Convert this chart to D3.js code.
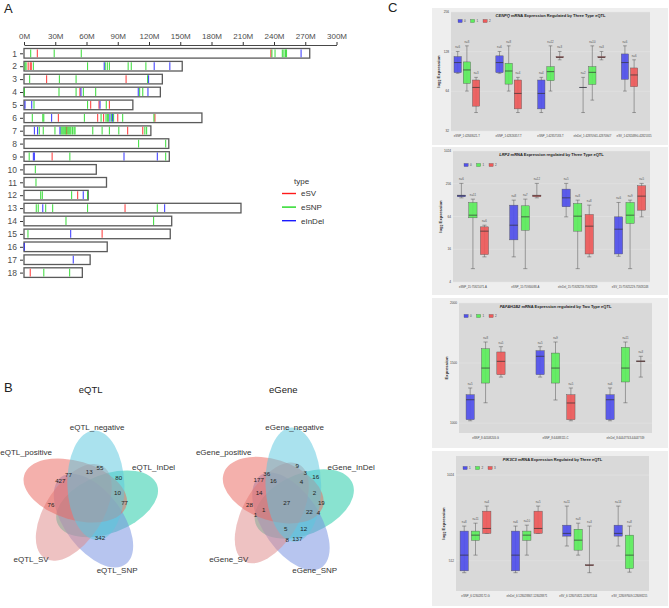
<!DOCTYPE html>
<html>
<head>
<meta charset="utf-8">
<script src="https://cdn.jsdelivr.net/npm/d3@7"></script>
<style>
  body { margin: 0; background: #fff; }
  text { font-family: "Liberation Sans", Arial, sans-serif; }
</style>
</head>
<body>
<div id="chart"></div>
<script>
// ---------------- data: panel A ----------------
const chromosomes = ["1","2","3","4","5","6","7","8","9","10","11","12","13","14","15","16","17","18"];
const chromLengths = [274.3,151.9,132.8,130.9,104.5,170.8,121.8,139.0,139.5,69.4,79.2,61.6,208.3,141.8,140.4,79.9,63.5,56.0];
const svMarks = [[1,12.8],[1,237],[2,4],[2,6],[2,7],[3,21.7],[3,98],[4,53.7],[5,64],[5,72],[5,82],
  [6,33],[6,70.7],[6,76.4],[6,90],[6,125.7],[7,41],[7,99.5],[7,114],[9,27],[12,51.5],[13,97],[15,75],[18,6]];
const snpMarks = [[1,6.4],[1,29],[1,55],[1,238],[1,241],[1,248],[1,249.5],[1,251],[1,252],
  [2,1],[2,2],[2,9],[2,61],[2,78],[2,80],[2,82],[2,100],[2,103],[2,117],
  [3,5.4],[3,34],[3,50],[3,118.6],
  [4,0.3],[4,33.6],[4,50],[4,57],[4,68.8],[4,111],[4,114],
  [5,9.6],[5,61],[5,79],
  [6,8],[6,18],[6,19],[6,58],[6,74],[6,78.7],[6,80],[6,81],[6,84],[6,86],[6,94.7],[6,124.7],
  [7,14.7],[7,18.5],[7,29.7],[7,35.5],[7,36.5],[7,37.5],[7,38.5],[7,39.5],[7,40.3],[7,42],[7,43],[7,44],
  [7,45],[7,46.5],[7,48],[7,49],[7,66],[7,75],[7,82],[7,91],[7,116],[7,117.7],
  [8,110],[8,136],[9,5],[9,44],[9,136],[10,10.9],[11,11.5],
  [12,16],[12,17.6],[12,45.7],[12,61],
  [13,11.8],[13,13.7],[13,20.8],[13,27.5],[13,61],[13,128],
  [14,40.3],[14,124.4],[15,3.8],[18,19],[18,43.8]];
const indelMarks = [[1,266],[2,77],[2,125],[2,140],[3,119.6],[4,54.7],[4,109.7],[4,119],
  [5,1],[5,7.4],[5,73],[6,26.5],[6,82.5],[6,85],[7,10],[7,13],[7,34.5],
  [9,9],[9,10],[9,96],[9,128],[12,56.9],[13,18],[13,135],[15,44.8],[16,0.3],[17,47.3]];
const markTypes = ["eSV","eSNP","eInDel"];
const axisTicksM = [0,30,60,90,120,150,180,210,240,270,300];

// ---------------- data: panel B ----------------
const vennSets = ["InDel","SNP","SV","positive","negative"];   // letters I S V P N
const eqtlRegions = ["SP","SPN","VPN","VN","IN","IPN","IP","VP","SN"];
const eqtlCounts  = [427, 77, 13, 55, 80, 10, 77, 76, 342];
const egeneRegions = ["VN","IVN","IN","SP","SPN","SVPN","IVPN","SVP","IPN","IP",
                      "VP","ISVPN","ISPN","ISP","IVP","ISVP","ISVN","ISN","SVN","SN"];
const egeneCounts  = [9, 3, 16, 177, 36, 16, 4, 14, 2, 19, 28, 27, 22, 4, 1, 1, 5, 12, 8, 137];

// ---------------- data: panel C ----------------
// rows: [snp index, genotype index, lower whisker, q1, median, q3, upper whisker, n]
const cenpqSnps = ["eSNP_1:42848021-T","eSNP_1:42826357-T","eSNP_1:42857183-T","eInDel_1:42870941-42870947","eSV_1:42824890-42825315"];
const cenpqBoxes = [
  [0,0,87.7,88.7,105.8,117.5,128.4,6],[0,1,64.3,73.5,93,107,141.7,8],[0,2,44.2,49.4,68.5,78,81.7,3],
  [1,0,87.7,88.7,105.8,119,128.4,6],[1,1,64.3,72.6,91.3,104.5,141.7,8],[1,2,44.2,47.1,61.7,78,81.7,4],
  [2,0,44.2,47.1,61.7,78,81.7,4],[2,1,64.3,77.1,90.3,98.6,141.7,12],[2,2,111,115,116,117.5,128.4,3],
  [3,0,44.2,68.5,68.5,68.5,81.7,2],[3,1,54.9,72.2,89.2,98.6,141.7,10],[3,2,111,115,116,117.5,128.4,3],
  [4,0,64.3,78.9,105.8,123,141.7,6],[4,2,44.2,69.4,85.2,96.3,111,6]];
const lrp2Snps = ["eSNP_15:75921071-A","eSNP_15:75930088-A","eInDel_15:75928259-75928259","eSV_15:75925229-75928248"];
const lrp2Boxes = [
  [0,0,141,147.5,154,158.3,259.6,6],[0,1,7.04,60.5,67.7,115.9,133.5,11],[0,2,11.6,12.8,34.4,41.3,44.3,6],
  [1,0,11.6,23.8,44.3,103.5,128,8],[1,1,7.04,35.8,63.1,100.6,133.5,7],[1,2,141,147.5,154,158.3,259.6,12],
  [2,0,63.1,96.5,141,204,259.6,5],[2,1,7.04,34.4,64.9,111,128,8],[2,2,11.6,13.1,42.5,69.7,103.5,8],
  [3,0,11.9,13.1,37.4,63.1,115.9,6],[3,1,7.04,47.6,67.7,115.9,128,9],[3,2,63.1,83.7,151.6,235,259.6,5]];
const pafahSnps = ["eSNP_8:44108203-G","eSNP_8:44088111-C","eInDel_8:44447743-44447749"];
const pafahBoxes = [
  [0,0,1019,1028,1194,1236,1292,5],[0,1,1169,1333,1458,1619,1675,8],[0,2,1383,1403,1514,1592,1636,5],
  [1,0,1383,1403,1556,1603,1636,5],[1,1,1192,1333,1458,1583,1675,9],[1,2,1019,1028,1167,1236,1292,5],
  [2,0,1019,1028,1194,1236,1292,6],[2,1,1169,1342,1458,1631,1675,11],[2,2,1383,1510,1514,1518,1556,3]];
const pik3c3Snps = ["eSNP_6:128028172-G","eInDel_6:128028867-128028871","eSV_6:128070821-128071144","eSV_128097609-128098215"];
const pik3c3Boxes = [
  [0,0,465,472,536,651,678,8],[0,1,536,604,630,651,694,11],[0,2,639,639,665,765,797,4],
  [1,0,465,472,536,651,678,6],[1,1,536,604,630,651,683,10],[1,2,639,639,665,765,797,5],
  [2,0,577,625,639,683,797,11],[2,1,536,558,605,661,694,8],[2,2,465,492,494,496,678,3],
  [3,0,577,625,639,683,797,14],[3,1,467,481,536,630,678,8]];
const genotypes012 = ["0","1","2"];
const genotypes123 = ["1","2","3"];

// ---------------- styles / layout ----------------
const font = "Liberation Sans, Arial, sans-serif";
const markColors = ["#FF1A1A","#1ED81E","#1A1AFF"];
const vennColors = ["#1DC9A4","#7490E0","#DE8A8A","#E9675F","#5CC8DE"];
const boxColors = ["#5050EC","#5CEE5C","#EE5A5A"];

const svg = d3.select("#chart").append("svg")
    .attr("width", 669).attr("height", 608);

function addPanelLetter(x, y, t) {
    svg.append("text").attr("x", x).attr("y", y)
        .style("font-size", "13px").attr("fill", "#222").text(t);
}

// ---------------- panel A ----------------
function drawChromosomes() {
    const x = d3.scaleLinear().domain([0, 300]).range([24, 336.5]);
    const y = d3.scalePoint().domain(chromosomes).range([53.3, 272.6]);
    const barH = 9.6;

    const xAxis = svg.append("g")
        .attr("transform", "translate(0,45)")
        .call(d3.axisTop(x).tickValues(axisTicksM).tickFormat(d => d + "M").tickSize(3).tickSizeOuter(0));
    xAxis.selectAll("text").attr("font-size", 8).attr("font-family", font).attr("fill", "#4D4D4D");
    xAxis.select(".domain").attr("stroke", "#333").attr("stroke-width", 0.9);
    xAxis.selectAll(".tick line").attr("stroke", "#333");

    const yAxis = svg.append("g")
        .attr("transform", "translate(23,0)")
        .call(d3.axisLeft(y).tickSize(3));
    yAxis.select(".domain").remove();
    yAxis.selectAll("text").attr("font-size", 8.5).attr("font-family", font).attr("fill", "#4D4D4D");
    yAxis.selectAll(".tick line").attr("stroke", "#333");

    // chromosome bars
    svg.append("g").selectAll("rect")
        .data(chromosomes)
        .enter()
        .append("rect")
        .attr("x", x(0))
        .attr("y", d => y(d) - barH / 2)
        .attr("width", (d, i) => x(chromLengths[i]) - x(0))
        .attr("height", barH)
        .attr("fill", "#fff")
        .attr("stroke", "#5a5a5a")
        .attr("stroke-width", 1.3);

    // variant marks
    [svMarks, snpMarks, indelMarks].forEach((marks, t) => {
        svg.append("g").selectAll("line")
            .data(marks)
            .enter()
            .append("line")
            .attr("x1", d => x(d[1])).attr("x2", d => x(d[1]))
            .attr("y1", d => y(String(d[0])) - barH / 2 + 0.9)
            .attr("y2", d => y(String(d[0])) + barH / 2 - 0.9)
            .attr("stroke", markColors[t])
            .attr("stroke-width", 1.1)
            .attr("opacity", 0.8);
    });

    // legend
    svg.append("text").attr("x", 294).attr("y", 184)
        .attr("font-size", 8).attr("fill", "#333").text("type");
    markTypes.forEach((m, i) => {
        const ly = 193.5 + i * 13.6;
        svg.append("line").attr("x1", 282).attr("x2", 296).attr("y1", ly).attr("y2", ly)
            .attr("stroke", markColors[i]).attr("stroke-width", 1.4);
        svg.append("text").attr("x", 301).attr("y", ly + 2.8)
            .attr("font-size", 8).attr("fill", "#333").text(m);
    });
}

// ---------------- panel B ----------------
// 5-ellipse layout (model units) and per-diagram placement
const vennShape = { a: 56, b: 30, d: 19, del: 24, rot0: -20 };
const nameOffsets = [[64.5, -35.5], [28, 67.6], [-58, 56.3], [-63, -50.5], [8, -75.5]];

function vennEllipses(p) {
    return d3.range(5).map(k => {
        const o = (p.rot0 + p.del + 72 * k) * Math.PI / 180;
        return { k, cx: p.d * Math.cos(o), cy: p.d * Math.sin(o), rot: p.rot0 + 72 * k };
    });
}

function regionCode(ells, p, x, y) {
    let c = 0;
    ells.forEach(e => {
        const m = e.rot * Math.PI / 180, dx = x - e.cx, dy = y - e.cy;
        const u = dx * Math.cos(m) + dy * Math.sin(m), v = -dx * Math.sin(m) + dy * Math.cos(m);
        if ((u / p.a) ** 2 + (v / p.b) ** 2 <= 1) c |= 1 << e.k;
    });
    return c;
}

function regionCentroids(ells, p) {
    // centroid of every region, sampled on a grid in model units
    const sx = new Array(32).fill(0), sy = new Array(32).fill(0), n = new Array(32).fill(0);
    for (let yy = -80; yy <= 80; yy += 1) {
        for (let xx = -80; xx <= 80; xx += 1) {
            const c = regionCode(ells, p, xx, yy);
            sx[c] += xx; sy[c] += yy; n[c]++;
        }
    }
    return d3.range(32).map(c => n[c] ? [sx[c] / n[c], sy[c] / n[c]] : null);
}

function lettersToCode(s) {
    const letters = "ISVPN";
    let c = 0;
    for (const ch of s) c |= 1 << letters.indexOf(ch);
    return c;
}

function drawVenn(place, title, prefix, regions, counts) {
    const ells = vennEllipses(vennShape);
    const cent = regionCentroids(ells, vennShape);

    const g = svg.append("g")
        .attr("transform", `translate(${place.cx},${place.cy}) scale(${place.sx},${place.sy})`);
    g.selectAll("ellipse")
        .data(ells)
        .enter()
        .append("ellipse")
        .attr("rx", vennShape.a).attr("ry", vennShape.b)
        .attr("transform", e => `translate(${e.cx},${e.cy}) rotate(${e.rot})`)
        .attr("fill", e => vennColors[e.k])
        .attr("fill-opacity", 0.52);

    svg.append("text").attr("x", place.tx).attr("y", 393)
        .attr("text-anchor", "middle").attr("font-size", 9.5).attr("fill", "#222").text(title);

    vennSets.forEach((s, k) => {
        svg.append("text")
            .attr("x", place.cx + nameOffsets[k][0])
            .attr("y", place.cy + nameOffsets[k][1] + 3)
            .attr("text-anchor", "middle").attr("font-size", 8).attr("fill", "#333")
            .text(prefix + s);
    });

    regions.forEach((r, i) => {
        const c = cent[lettersToCode(r)];
        if (!c) return;
        svg.append("text")
            .attr("x", place.cx + place.sx * c[0])
            .attr("y", place.cy + place.sy * c[1] + 2.2)
            .attr("text-anchor", "middle").attr("font-size", 6.2).attr("fill", "#222")
            .text(counts[i]);
    });
}

// ---------------- panel C ----------------
function drawBoxPanel(cfg) {
    const o = cfg.outer, p = cfg.plot;
    svg.append("rect").attr("x", o[0]).attr("y", o[1]).attr("width", o[2] - o[0]).attr("height", o[3] - o[1])
        .attr("fill", "#EEEEEE");
    svg.append("rect").attr("x", p[0]).attr("y", p[1]).attr("width", p[2] - p[0]).attr("height", p[3] - p[1])
        .attr("fill", "#D9D9D9");

    const y = (cfg.log ? d3.scaleLog().base(2) : d3.scaleLinear())
        .domain(cfg.domain).range([p[3], p[1]]);
    const x = d3.scalePoint().domain(d3.range(cfg.snps.length)).range([p[0], p[2]]).padding(0.38);
    const slot = 0.22 * x.step();
    const bw = Math.min(8.3, slot * 0.8);

    // gridlines + y axis labels
    cfg.ticks.forEach(t => {
        svg.append("line").attr("x1", p[0]).attr("x2", p[2]).attr("y1", y(t)).attr("y2", y(t))
            .attr("stroke", "#E6E6E6").attr("stroke-width", 0.5);
        svg.append("text").attr("x", p[0] - 2).attr("y", y(t) + 1.1)
            .attr("text-anchor", "end").attr("font-size", 3.2).attr("fill", "#444").text(t);
    });
    const yt = svg.append("text")
        .attr("transform", `translate(${p[0] - 11},${(p[1] + p[3]) / 2}) rotate(-90)`)
        .attr("text-anchor", "middle").attr("font-size", 4.3).attr("font-weight", "bold").attr("fill", "#333");
    if (cfg.log) {
        yt.append("tspan").text("log");
        yt.append("tspan").attr("font-size", 3).attr("dy", 1).text("2");
        yt.append("tspan").attr("dy", -1).text(" Expression");
    } else {
        yt.text("Expression");
    }

    // title
    const tt = svg.append("text").attr("x", (p[0] + p[2]) / 2).attr("y", p[1] + 5)
        .attr("text-anchor", "middle").attr("font-size", 4).attr("font-weight", "bold").attr("fill", "#222");
    tt.append("tspan").attr("font-style", "italic").text(cfg.gene);
    tt.append("tspan").text(cfg.title);

    // legend
    cfg.genotypes.forEach((gname, i) => {
        const lx = p[0] + cfg.legendDx + i * 12.5, ly = p[1] + cfg.legendDy;
        svg.append("rect").attr("x", lx).attr("y", ly - 1.6).attr("width", 4.2).attr("height", 3.2)
            .attr("fill", boxColors[i]).attr("stroke", "#555").attr("stroke-width", 0.3);
        svg.append("text").attr("x", lx + 6).attr("y", ly + 1).attr("font-size", 3).attr("fill", "#444").text(gname);
    });

    // x labels
    cfg.snps.forEach((s, i) => {
        svg.append("text").attr("x", x(i)).attr("y", p[3] + 5.5)
            .attr("text-anchor", "middle").attr("font-size", 2.8).attr("fill", "#444").text(s);
    });

    // boxes
    const g = svg.append("g");
    cfg.boxes.forEach(b => {
        const present = cfg.boxes.filter(r => r[0] === b[0]).map(r => r[1]).sort();
        const cx = x(b[0]) + (present.indexOf(b[1]) - 1) * slot;
        const [lo, q1, med, q3, hi, n] = b.slice(2);
        const cap = bw * 0.5;
        g.append("line").attr("x1", cx).attr("x2", cx).attr("y1", y(hi)).attr("y2", y(lo))
            .attr("stroke", "#555").attr("stroke-width", 0.5);
        [lo, hi].forEach(v => g.append("line").attr("x1", cx - cap / 2).attr("x2", cx + cap / 2)
            .attr("y1", y(v)).attr("y2", y(v)).attr("stroke", "#555").attr("stroke-width", 0.5));
        g.append("rect").attr("x", cx - bw / 2).attr("y", y(q3)).attr("width", bw)
            .attr("height", Math.max(0.3, y(q1) - y(q3)))
            .attr("fill", boxColors[b[1]]).attr("fill-opacity", 0.92)
            .attr("stroke", "#555").attr("stroke-width", 0.4);
        g.append("line").attr("x1", cx - bw / 2).attr("x2", cx + bw / 2).attr("y1", y(med)).attr("y2", y(med))
            .attr("stroke", "#333").attr("stroke-width", 0.7);
        g.append("text").attr("x", cx).attr("y", y(hi) - 3).attr("text-anchor", "middle")
            .attr("font-size", 2.8).attr("fill", "#555").text("n=" + n);
    });
}

// ---------------- draw ----------------
addPanelLetter(4, 13, "A");
addPanelLetter(4, 392, "B");
addPanelLetter(388, 12, "C");

drawChromosomes();

drawVenn({ cx: 89.1, cy: 502.5, sx: 0.95, sy: 0.98, tx: 90.7 }, "eQTL", "eQTL_", eqtlRegions, eqtlCounts);
drawVenn({ cx: 286.7, cy: 502.6, sx: 0.926, sy: 1.02, tx: 283.3 }, "eGene", "eGene_", egeneRegions, egeneCounts);

drawBoxPanel({ outer: [432, 8, 668, 145], plot: [451, 12, 650, 131], log: true, domain: [32, 256],
    ticks: [32, 64, 128, 256], snps: cenpqSnps, boxes: cenpqBoxes, genotypes: genotypes012,
    gene: "CENPQ", title: " mRNA Expression Regulated by Three Type eQTL", legendDx: 7, legendDy: 9 });
drawBoxPanel({ outer: [432, 147, 668, 295], plot: [453, 151, 650, 282], log: true, domain: [4, 1024],
    ticks: [4, 16, 64, 256, 1024], snps: lrp2Snps, boxes: lrp2Boxes, genotypes: genotypes012,
    gene: "LRP2", title: " mRNA Expression regulated by Three Type eQTL", legendDx: 11, legendDy: 14 });
drawBoxPanel({ outer: [432, 298, 668, 448], plot: [459, 303, 652, 433], log: false, domain: [917, 2000],
    ticks: [1000, 1500, 2000], snps: pafahSnps, boxes: pafahBoxes, genotypes: genotypes012,
    gene: "PAFAH1B2", title: " mRNA Expression regulated by Two Type eQTL", legendDx: 5, legendDy: 13 });
drawBoxPanel({ outer: [432, 451, 668, 606], plot: [456, 456, 649, 591], log: true, domain: [401, 1195],
    ticks: [512, 1024], snps: pik3c3Snps, boxes: pik3c3Boxes, genotypes: genotypes123,
    gene: "PIK3C3", title: " mRNA Expression Regulated by Three eQTL", legendDx: 7, legendDy: 12 });
</script>
</body>
</html>
